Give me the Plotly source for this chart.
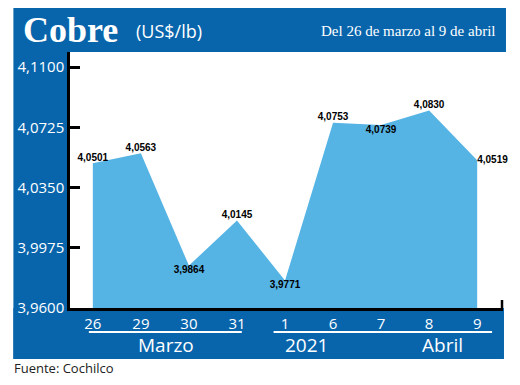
import plotly.graph_objects as go

# ---- data ----
dias = ["26", "29", "30", "31", "1", "6", "7", "8", "9"]
precios = [4.0501, 4.0563, 3.9864, 4.0145, 3.9771, 4.0753, 4.0739, 4.0830, 4.0519]
etiquetas = ["4,0501", "4,0563", "3,9864", "4,0145", "3,9771", "4,0753", "4,0739", "4,0830", "4,0519"]
y_tickvals = [3.96, 3.9975, 4.035, 4.0725, 4.11]
y_ticktext = ["3,9600", "3,9975", "4,0350", "4,0725", "4,1100"]
meses = ["Marzo", "2021", "Abril"]
titulo = "Cobre"
unidad = "(US$/lb)"
periodo = "Del 26 de marzo al 9 de abril"
fuente = "Fuente: Cochilco"

# ---- layout geometry (page pixels; the page body has an 8px margin) ----
OFF = 8
W, H = 520 - 2 * OFF, 385 - 2 * OFF
L, R, T, B = 67, 503, 52, 308   # plot area, page pixels


def px(x):
    return (x - L) / (R - L)


def py(y):
    return (B - y) / (B - T)


DARK = "#0865AC"
LIGHT = "#56B4E4"

step = (477 - 90) / 8.0
xr = [(L - 90) / step, (R - 90) / step]
yscale = 0.15 / (308 - 67)
yr = [3.96, 4.11 + (67 - T) * yscale]

positions = ["top center", "top center", "bottom center", "top center", "bottom center",
             "top center", "bottom center", "top center", "middle right"]

fig = go.Figure()
fig.add_trace(go.Scatter(
    x=dias, y=precios, mode="lines+text", fill="tozeroy",
    fillcolor=LIGHT, line=dict(width=0, color=LIGHT),
    text=etiquetas, textposition=positions,
    textfont=dict(family="Liberation Sans Narrow, Liberation Sans", size=10,
                  color="black", weight="bold"),
    cliponaxis=False, hoverinfo="skip", showlegend=False,
))

shapes = [
    dict(type="rect", xref="paper", yref="paper", x0=px(10), x1=px(506), y0=py(52), y1=py(7),
         fillcolor=DARK, line=dict(width=0), layer="below"),
    dict(type="rect", xref="paper", yref="paper", x0=px(10), x1=px(66.5), y0=py(359), y1=py(52),
         fillcolor=DARK, line=dict(width=0), layer="below"),
    dict(type="rect", xref="paper", yref="paper", x0=px(10), x1=px(504), y0=py(359), y1=py(308),
         fillcolor=DARK, line=dict(width=0), layer="below"),
    dict(type="line", xref="paper", yref="paper", x0=px(86), x1=px(240), y0=py(332), y1=py(332),
         line=dict(color="white", width=2)),
    dict(type="line", xref="paper", yref="paper", x0=px(272), x1=px(492), y0=py(332), y1=py(332),
         line=dict(color="white", width=2)),
    dict(type="line", xref="paper", yref="paper", x0=px(502), x1=px(502), y0=py(308), y1=py(300),
         line=dict(color="black", width=2.5)),
]

annotations = [
    dict(text="<b>" + titulo + "</b>", x=px(18), y=py(30), xref="paper", yref="paper",
         xanchor="left", yanchor="middle", showarrow=False,
         font=dict(family="Liberation Serif", size=36, color="white")),
    dict(text=unidad, x=px(131), y=py(31), xref="paper", yref="paper",
         xanchor="left", yanchor="middle", showarrow=False,
         font=dict(family="Open Sans", size=18, color="white")),
    dict(text=periodo, x=px(498), y=py(31), xref="paper", yref="paper",
         xanchor="right", yanchor="middle", showarrow=False,
         font=dict(family="Liberation Serif", size=15, color="white")),
    dict(text=meses[0], x=px(164), y=py(345), xref="paper", yref="paper",
         xanchor="center", yanchor="middle", showarrow=False,
         font=dict(family="Open Sans", size=19, color="white")),
    dict(text=meses[1], x=px(305), y=py(345), xref="paper", yref="paper",
         xanchor="center", yanchor="middle", showarrow=False,
         font=dict(family="Open Sans", size=19, color="white")),
    dict(text=meses[2], x=px(442), y=py(345), xref="paper", yref="paper",
         xanchor="center", yanchor="middle", showarrow=False,
         font=dict(family="Open Sans", size=19, color="white")),
    dict(text=fuente, x=px(9), y=py(368), xref="paper", yref="paper",
         xanchor="left", yanchor="middle", showarrow=False,
         font=dict(family="Open Sans", size=13, color="#222222")),
]

fig.update_layout(
    width=W, height=H,
    margin=dict(l=L - OFF, r=(OFF + W) - R, t=T - OFF, b=(OFF + H) - B, pad=0),
    paper_bgcolor="white", plot_bgcolor="white",
    shapes=shapes, annotations=annotations,
    xaxis=dict(type="category", range=xr, showgrid=False, zeroline=False,
               showline=True, linecolor="black", linewidth=2.5,
               ticks="", tickfont=dict(family="Open Sans", size=15, color="white"),
               fixedrange=True),
    yaxis=dict(range=yr, tickvals=y_tickvals, ticktext=y_ticktext,
               showgrid=False, zeroline=False, showline=True, linecolor="black",
               linewidth=2.5, ticks="inside", ticklen=10, tickwidth=2.5, tickcolor="black",
               tickfont=dict(family="Open Sans", size=15, color="white"),
               fixedrange=True),
)

fig.write_html("out.html")
